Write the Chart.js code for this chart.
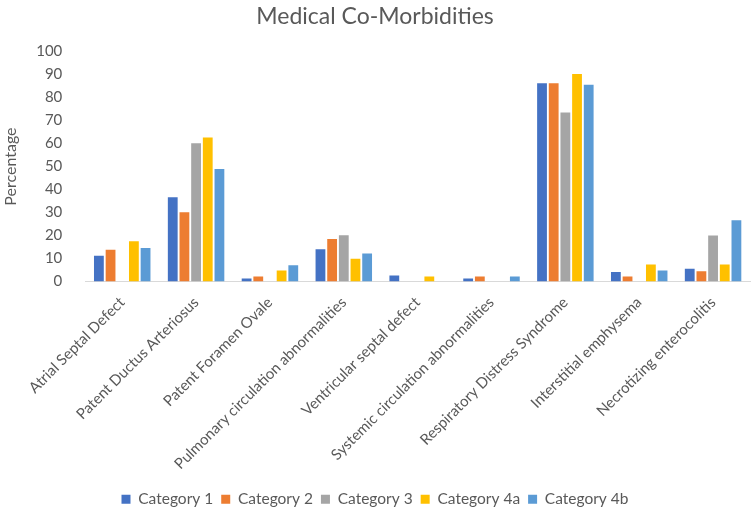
<!DOCTYPE html>
<html lang="en">
<head>
    <meta charset="UTF-8">
    <title>Medical Co-Morbidities</title>
    <script src="https://cdn.jsdelivr.net/npm/chart.js"></script>
    <style>
        body {
            margin: 0;
            padding: 0;
            background-color: #ffffff;
        }
        #chart-container {
            width: 751px;
            height: 510px;
        }
    </style>
</head>
<body>
    <div id="chart-container">
        <canvas id="morbidity-chart"></canvas>
    </div>

    <script>
        const conditions = [
            'Atrial Septal Defect',
            'Patent Ductus Arteriosus',
            'Patent Foramen Ovale',
            'Pulmonary circulation abnormalities',
            'Ventricular septal defect',
            'Systemic circulation abnormalities',
            'Respiratory Distress Syndrome',
            'Interstitial emphysema',
            'Necrotizing enterocolitis'
        ];

        const category1 = [11.2, 36.7, 1.3, 14.0, 2.6, 1.3, 86.2, 4.1, 5.5];
        const category2 = [13.8, 30.1, 2.2, 18.5, 0, 2.2, 86.2, 2.2, 4.5];
        const category3 = [0, 60.1, 0, 20.1, 0, 0, 73.5, 0, 20.0];
        const category4a = [17.5, 62.6, 4.8, 9.9, 2.2, 0, 90.3, 7.4, 7.4];
        const category4b = [14.6, 48.9, 7.1, 12.2, 0, 2.2, 85.6, 4.8, 26.6];

        const seriesNames = ['Category 1', 'Category 2', 'Category 3', 'Category 4a', 'Category 4b'];
        const seriesColors = ['#4472C4', '#ED7D31', '#A5A5A5', '#FFC000', '#5B9BD5'];
        const seriesValues = [category1, category2, category3, category4a, category4b];

        const textColor = '#595959';
        const fontFamily = 'Lato, "Open Sans", sans-serif';

        const datasets = seriesNames.map((name, i) => ({
            label: name,
            data: seriesValues[i],
            backgroundColor: seriesColors[i],
            borderWidth: 0,
            categoryPercentage: 0.79,
            barPercentage: 0.84
        }));

        const ctx = document.getElementById('morbidity-chart').getContext('2d');
        new Chart(ctx, {
            type: 'bar',
            data: {
                labels: conditions,
                datasets: datasets
            },
            options: {
                responsive: true,
                maintainAspectRatio: false,
                animation: false,
                layout: {
                    padding: { left: 0, right: 1, top: 0, bottom: -7 }
                },
                plugins: {
                    title: {
                        display: true,
                        text: 'Medical Co-Morbidities',
                        color: textColor,
                        font: { family: fontFamily, size: 23, weight: 'normal' },
                        padding: { top: 3, bottom: 21 }
                    },
                    legend: {
                        position: 'bottom',
                        labels: {
                            color: textColor,
                            boxWidth: 9,
                            boxHeight: 9,
                            padding: 8,
                            font: { family: fontFamily, size: 15.5 }
                        }
                    },
                    tooltip: { enabled: false }
                },
                scales: {
                    y: {
                        min: 0,
                        max: 100,
                        ticks: {
                            stepSize: 10,
                            color: textColor,
                            padding: 15,
                            font: { family: fontFamily, size: 15 }
                        },
                        grid: { display: false },
                        border: { display: false },
                        title: {
                            display: true,
                            text: 'Percentage',
                            color: textColor,
                            padding: 1,
                            font: { family: fontFamily, size: 16 }
                        }
                    },
                    x: {
                        ticks: {
                            color: textColor,
                            minRotation: 45,
                            maxRotation: 45,
                            padding: 4,
                            font: { family: fontFamily, size: 15 }
                        },
                        grid: { display: false },
                        border: { display: true, color: '#D9D9D9', width: 1 },
                        // let the slanted labels run into the left margin like the original
                        afterFit: (scale) => {
                            scale.paddingLeft = 0;
                            scale.paddingRight = 0;
                            scale.height = 202;
                        }
                    }
                }
            }
        });
    </script>
</body>
</html>
